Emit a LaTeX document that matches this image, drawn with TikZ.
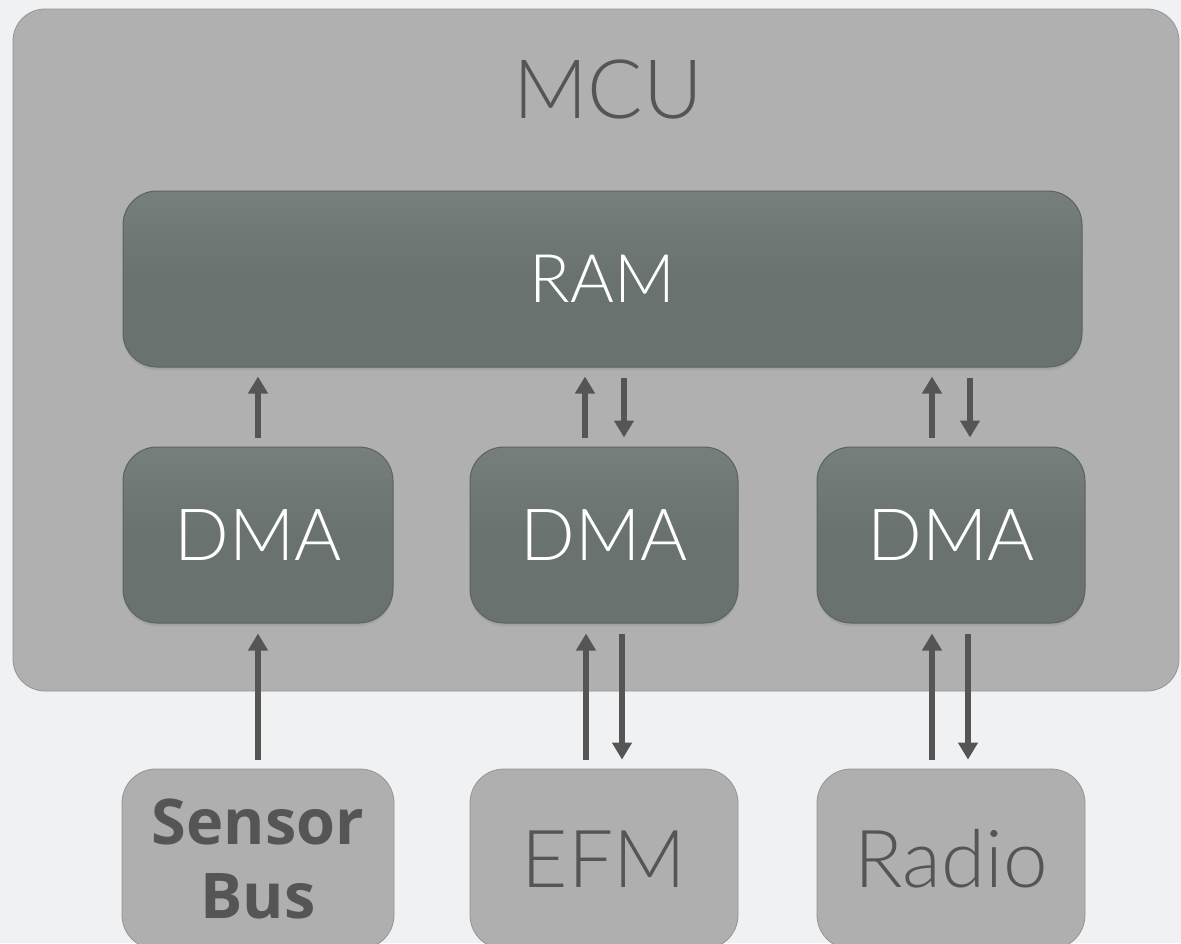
\documentclass[tikz,border=0pt]{standalone}
\usepackage{fontspec}
\usetikzlibrary{arrows.meta,shadows,calc}
\IfFontExistsTF{Lato Light}{\newfontfamily\lightfont{Lato Light}}{\newfontfamily\lightfont{Lato}}
\newfontfamily\osans{Open Sans}
\definecolor{bgc}{HTML}{F0F1F3}
\definecolor{mcuc}{HTML}{B0B0B1}
\definecolor{darkbox}{HTML}{6A726F}
\definecolor{darkboxtop}{HTML}{767F7C}
\definecolor{darkedge}{HTML}{5C6361}
\definecolor{lightbox}{HTML}{AFAFB0}
\definecolor{arrc}{HTML}{555555}
\tikzset{
  mcubox/.style={fill=mcuc, draw=mcuc!85!black, line width=0.8pt, rounded corners=32pt, inner sep=0pt},
  dbox/.style={draw=darkedge, line width=1pt, top color=darkboxtop, bottom color=darkbox, middle color=darkbox, rounded corners=34pt, inner sep=0pt, text=white,
    drop shadow={shadow xshift=0pt, shadow yshift=-3pt, opacity=0.25}},
  lbox/.style={draw=lightbox!85!black, line width=0.8pt, fill=lightbox, rounded corners=34pt, inner sep=0pt, text=arrc},
  arr/.style={draw=arrc, line width=6pt, -{Triangle[width=19pt,length=17pt]}},
}
\begin{document}
\begin{tikzpicture}[x=1pt,y=-1pt]
\useasboundingbox (0,0) rectangle (1181,943);
\fill[bgc] (0,0) rectangle (1181,943);
\clip (0,0) rectangle (1181,943);
% MCU container
\node[mcubox, minimum width=1166pt, minimum height=682pt] (mcu) at (596,350) {};
\node[text=arrc, inner sep=0pt, font=\lightfont\fontsize{82}{82}\selectfont] (mcut) at (608,89.5) {MCU};
% RAM
\node[dbox, minimum width=959pt, minimum height=176pt, font=\lightfont\fontsize{67}{67}\selectfont] (ram) at (602.5,279) {RAM};
% DMAs
\node[dbox, minimum width=270pt, minimum height=176pt, font=\lightfont\fontsize{72}{72}\selectfont] (dma1) at (258,535) {DMA};
\node[dbox, minimum width=268pt, minimum height=176pt, font=\lightfont\fontsize{72}{72}\selectfont] (dma2) at (604,535) {DMA};
\node[dbox, minimum width=268pt, minimum height=176pt, font=\lightfont\fontsize{72}{72}\selectfont] (dma3) at (951,535) {DMA};
% bottom peripherals
\node[lbox, minimum width=272pt, minimum height=180pt, align=center, font=\osans\bfseries\fontsize{63}{74}\selectfont] (sens) at (258,859) {Sensor\\Bus};
\node[lbox, minimum width=268pt, minimum height=180pt, font=\lightfont\fontsize{80}{80}\selectfont] (efm) at (604,859) {EFM};
\node[lbox, minimum width=268pt, minimum height=180pt, font=\lightfont\fontsize{80}{80}\selectfont] (radio) at (951,859) {Radio};
% DMA <-> RAM
\draw[arr, shorten <=9pt, shorten >=9pt] (dma1.north) -- (dma1.north |- ram.south);
\draw[arr, shorten <=9pt, shorten >=9pt] ([xshift=-19pt]dma2.north) -- ([xshift=-19pt]dma2.north |- ram.south);
\draw[arr, shorten <=10pt, shorten >=9pt] ([xshift=20pt]dma2.north |- ram.south) -- ([xshift=20pt]dma2.north);
\draw[arr, shorten <=9pt, shorten >=9pt] ([xshift=-19pt]dma3.north) -- ([xshift=-19pt]dma3.north |- ram.south);
\draw[arr, shorten <=10pt, shorten >=9pt] ([xshift=19pt]dma3.north |- ram.south) -- ([xshift=19pt]dma3.north);
% Peripherals <-> DMA
\draw[arr, shorten <=9pt, shorten >=10pt] (sens.north) -- (sens.north |- dma1.south);
\draw[arr, shorten <=9pt, shorten >=10pt] ([xshift=-18pt]efm.north) -- ([xshift=-18pt]efm.north |- dma2.south);
\draw[arr, shorten <=10pt, shorten >=9pt] ([xshift=18pt]efm.north |- dma2.south) -- ([xshift=18pt]efm.north);
\draw[arr, shorten <=9pt, shorten >=10pt] ([xshift=-19pt]radio.north) -- ([xshift=-19pt]radio.north |- dma3.south);
\draw[arr, shorten <=10pt, shorten >=9pt] ([xshift=17pt]radio.north |- dma3.south) -- ([xshift=17pt]radio.north);
\end{tikzpicture}
\end{document}
